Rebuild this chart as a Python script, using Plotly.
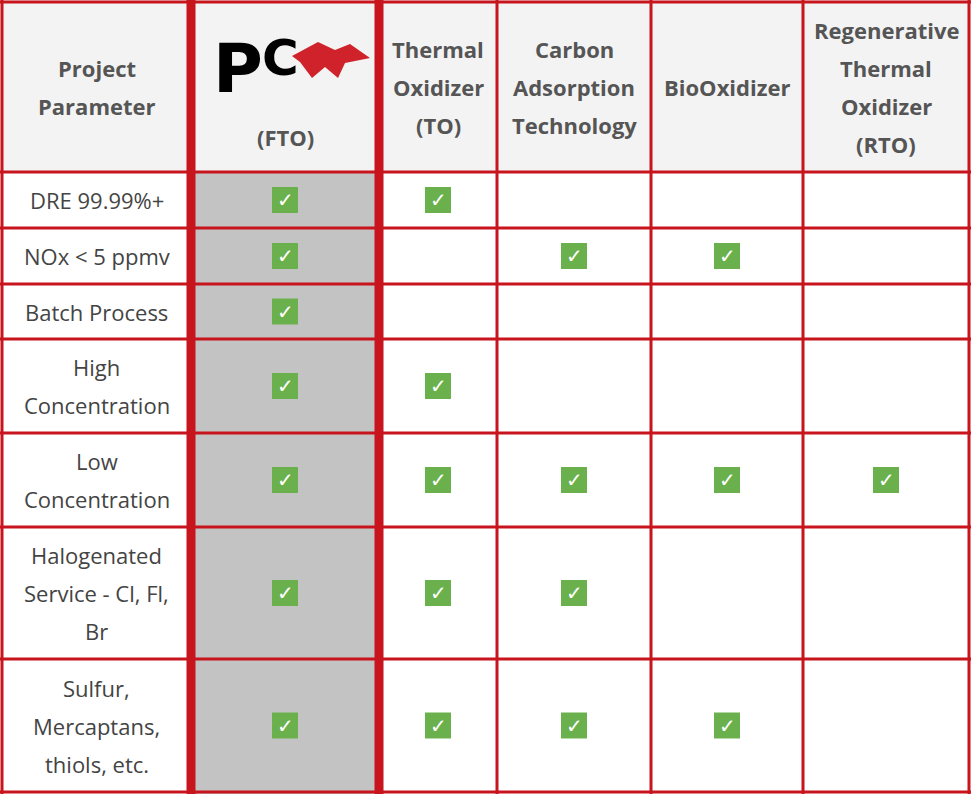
import plotly.graph_objects as go

headers = [["Project", "Parameter"], ["(FTO)"], ["Thermal", "Oxidizer", "(TO)"], ["Carbon", "Adsorption", "Technology"],
           ["BioOxidizer"], ["Regenerative", "Thermal", "Oxidizer", "(RTO)"]]
params = [["DRE 99.99%+"], ["NOx < 5 ppmv"], ["Batch Process"], ["High", "Concentration"], ["Low", "Concentration"],
          ["Halogenated", "Service - Cl, Fl,", "Br"], ["Sulfur,", "Mercaptans,", "thiols, etc."]]
checks = [
    [1, 1, 0, 0, 0],
    [1, 0, 1, 1, 0],
    [1, 0, 0, 0, 0],
    [1, 1, 0, 0, 0],
    [1, 1, 1, 1, 1],
    [1, 1, 1, 0, 0],
    [1, 1, 1, 1, 0],
]

xb = [2, 191, 379, 497, 651, 803, 969]
yb = [2, 172, 228, 284, 339, 433, 527, 659, 792]
RED = "#c8141c"
LH = 38
fig = go.Figure()
shapes, ann = [], []
shapes.append(dict(type="rect", x0=0, x1=971, y0=0, y1=794, fillcolor="white", line_width=0, layer="below"))
shapes.append(dict(type="rect", x0=0, x1=971, y0=0, y1=172, fillcolor="#f3f3f3", line_width=0, layer="below"))
shapes.append(dict(type="rect", x0=191, x1=379, y0=172, y1=794, fillcolor="#c3c3c3", line_width=0, layer="below"))
for y in yb:
    shapes.append(dict(type="line", x0=0, x1=971, y0=y, y1=y, line=dict(color=RED, width=3)))
for i, x in enumerate(xb):
    w = 9 if i in (1, 2) else 3
    shapes.append(dict(type="line", x0=x, x1=x, y0=0, y1=794, line=dict(color=RED, width=w)))

font = "Open Sans, Roboto, sans-serif"

def lines(cx, cy, ls, bold, color):
    n = len(ls)
    for k, t in enumerate(ls):
        y = cy + (k - (n - 1) / 2) * LH
        ann.append(dict(x=cx, y=y, text=("<b>%s</b>" % t) if bold else t, showarrow=False,
                        font=dict(family=font, size=22, color=color)))

for j, h in enumerate(headers):
    cx = (xb[j] + xb[j + 1]) / 2
    cy = 87 if j != 1 else 137
    lines(cx, cy, h, True, "#555555")
# logo
ann.append(dict(x=238, y=68, text="<b>P</b>", showarrow=False, font=dict(family="DejaVu Sans", size=68, color="black")))
ann.append(dict(x=280, y=58, text="<b>C</b>", showarrow=False, font=dict(family="DejaVu Sans", size=50, color="black")))
shapes.append(dict(type="path", path="M 292 56 L 318 42 L 335 50 L 350 44 L 370 58 L 345 63 L 338 78 L 325 67 L 312 78 L 300 62 Z",
                   fillcolor="#d0222a", line_width=0))
for i, p in enumerate(params):
    cy = (yb[i + 1] + yb[i + 2]) / 2
    lines((xb[0] + xb[1]) / 2, cy, p, False, "#444444")
    for j, c in enumerate(checks[i]):
        if c:
            cx = (xb[j + 1] + xb[j + 2]) / 2
            shapes.append(dict(type="rect", x0=cx - 13, x1=cx + 13, y0=cy - 13, y1=cy + 13,
                               fillcolor="#6ab04c", line_width=0))
            ann.append(dict(x=cx, y=cy, text="<b>✓</b>", showarrow=False,
                            font=dict(family="DejaVu Sans", size=20, color="white")))

fig.update_layout(width=971, height=794, margin=dict(l=0, r=0, t=0, b=0), shapes=shapes, annotations=ann,
                  plot_bgcolor="white", paper_bgcolor="white",
                  xaxis=dict(range=[0, 971], visible=False, fixedrange=True),
                  yaxis=dict(range=[794, 0], visible=False, fixedrange=True), showlegend=False)
fig.write_html("out.html", config={"displayModeBar": False},
               post_script="document.body.style.margin='0';document.body.style.overflow='hidden';")
